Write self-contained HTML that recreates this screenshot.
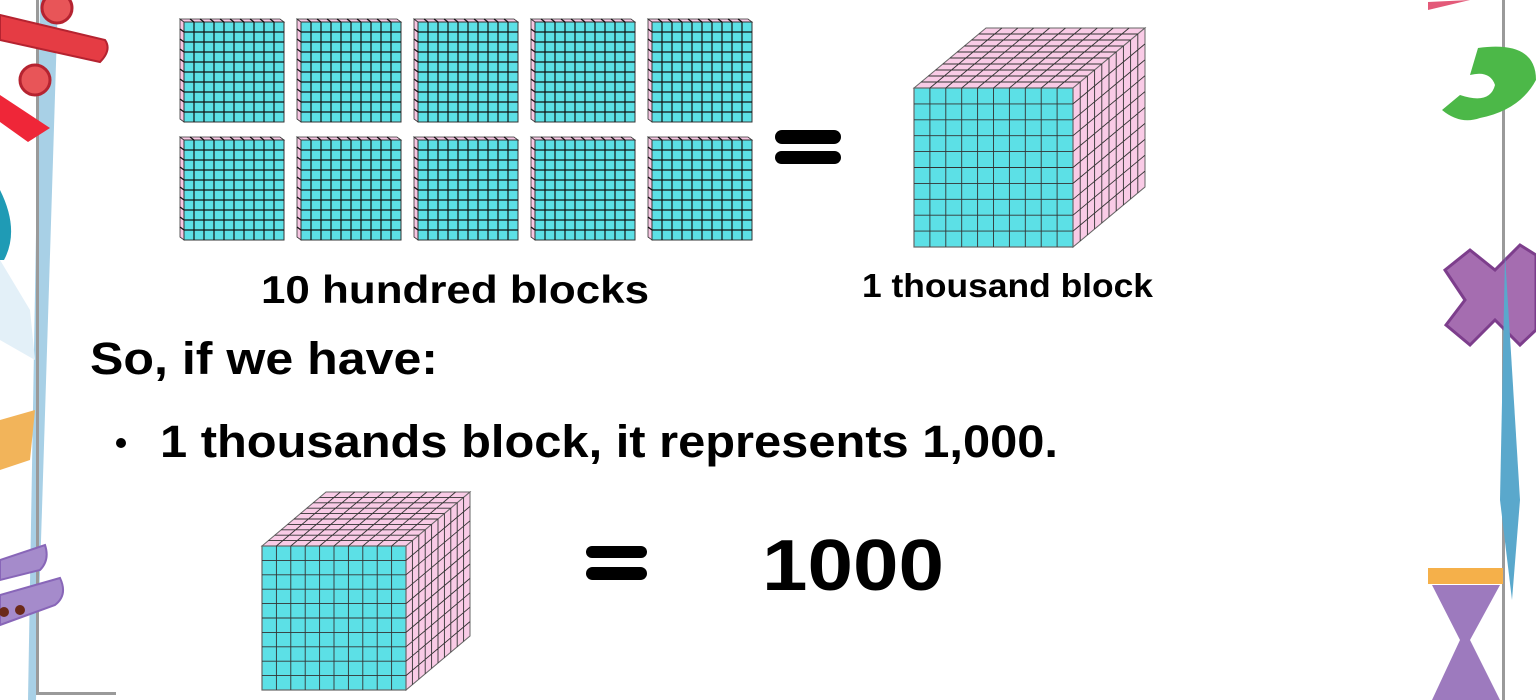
<!DOCTYPE html>
<html><head><meta charset="utf-8"><style>
html,body{margin:0;padding:0;background:#fff;}
svg{display:block;}
text{font-family:"Liberation Sans",sans-serif;font-weight:bold;fill:#000;}
</style></head><body>
<svg id="s" width="1536" height="700" viewBox="0 0 1536 700" xmlns="http://www.w3.org/2000/svg">
<g>
  <path d="M40,0 L58,0 L36,700 L28,700 Z" fill="#a8d0e6"/>
  <rect x="36" y="0" width="3" height="695" fill="#9a9a9a"/>
  <rect x="36" y="692" width="80" height="3" fill="#9a9a9a"/>
  <path d="M0,15 L105,40 Q112,50 100,62 L0,40 Z" fill="#e53c44" stroke="#b52330" stroke-width="2"/>
  <circle cx="57" cy="8" r="15" fill="#e85558" stroke="#b52330" stroke-width="3"/>
  <circle cx="35" cy="80" r="15" fill="#e85558" stroke="#b52330" stroke-width="3"/>
  <path d="M0,95 L50,128 L28,142 L0,122 Z" fill="#ef2638"/>
  <path d="M0,190 Q20,230 4,260 L0,260 Z" fill="#1f9bb5"/>
  <path d="M0,260 L30,310 L35,360 L0,340 Z" fill="#e3f0f8"/>
  <path d="M0,420 L35,410 L30,460 L0,470 Z" fill="#f2b45a"/>
  <path d="M0,560 L45,545 Q50,560 40,570 L0,580 Z" fill="#a58bcb" stroke="#8866b8" stroke-width="2"/>
  <path d="M0,595 L60,578 Q68,595 55,605 L0,625 Z" fill="#a58bcb" stroke="#8866b8" stroke-width="2"/>
  <circle cx="20" cy="610" r="5" fill="#6b2a1a"/><circle cx="4" cy="612" r="5" fill="#6b2a1a"/>
</g>
<g>
  <rect x="1502" y="0" width="3" height="700" fill="#9a9a9a"/>
  <path d="M1428,2 L1470,0 L1428,10 Z" fill="#e35a79"/>
  <path d="M1478,48 Q1536,40 1536,80 Q1520,110 1480,118 Q1460,125 1442,110 L1460,95 Q1490,105 1495,85 Q1490,70 1470,75 Z" fill="#4cb848"/>
  <path d="M1445,270 L1470,250 L1495,270 L1520,245 L1536,255 L1536,330 L1520,345 L1495,320 L1470,345 L1446,325 L1465,300 Z" fill="#a56db0" stroke="#7d3e8c" stroke-width="3"/>
  <path d="M1505,255 L1520,500 L1512,600 L1500,500 Z" fill="#5aa8cc"/>
  <rect x="1428" y="568" width="75" height="16" fill="#f5b04a"/>
  <path d="M1432,585 L1500,585 L1470,640 L1500,700 L1432,700 L1460,640 Z" fill="#8c63b3" opacity="0.85"/>
</g>
<g id="hundreds"></g>
<g>
  <rect x="775" y="130" width="66" height="14" rx="7"/>
  <rect x="775" y="151" width="66" height="13" rx="6.5"/>
</g>
<g id="cube1"></g>
<text x="455" y="303" text-anchor="middle" font-size="39" textLength="388" lengthAdjust="spacingAndGlyphs">10 hundred blocks</text>
<text x="862" y="297" font-size="33" textLength="291" lengthAdjust="spacingAndGlyphs">1 thousand block</text>
<text x="90" y="374" font-size="45" textLength="348" lengthAdjust="spacingAndGlyphs">So, if we have:</text>
<circle cx="121" cy="443" r="5"/>
<text x="160" y="457" font-size="45" textLength="898" lengthAdjust="spacingAndGlyphs">1 thousands block, it represents 1,000.</text>
<g id="cube2"></g>
<g>
  <rect x="586" y="546" width="61" height="12" rx="6"/>
  <rect x="586" y="567" width="61" height="13" rx="6.5"/>
</g>
<text x="762" y="590" font-size="72" textLength="182" lengthAdjust="spacingAndGlyphs">1000</text>
</svg>
<script>
const NS="http://www.w3.org/2000/svg";
function el(p,tag,a){const e=document.createElementNS(NS,tag);for(const k in a)e.setAttribute(k,a[k]);p.appendChild(e);return e;}
// hundred blocks
const H=document.getElementById('hundreds');
for(let r=0;r<2;r++)for(let c=0;c<5;c++){
  const x=184+c*117,y=22+r*118,s=100,dx=-4,dy=-3;
  const g=el(H,'g',{});
  
  
  el(g,'polygon',{points:`${x},${y} ${x+dx},${y+dy} ${x+dx},${y+dy+s} ${x},${y+s}`,fill:'#f7c6e2',stroke:'#333','stroke-width':0.8});
  el(g,'polygon',{points:`${x},${y} ${x+dx},${y+dy} ${x+dx+s},${y+dy} ${x+s},${y}`,fill:'#f7c6e2',stroke:'#333','stroke-width':0.8});
  el(g,'rect',{x:x,y:y,width:s,height:s,fill:'#5ce0e6',stroke:'#333','stroke-width':1});
  let d='';
  for(let i=1;i<10;i++){const t=i*s/10;d+=`M${x+t},${y}V${y+s}M${x},${y+t}H${x+s}M${x+dx},${y+dy+t}L${x},${y+t}M${x+dx+t},${y+dy}L${x+t},${y}`;}
  el(g,'path',{d:d,stroke:'#111','stroke-width':1.2,fill:'none'});
}
function cube(id,x,y,s,dx,dy){
  const g=document.getElementById(id);
  el(g,'polygon',{points:`${x},${y} ${x+dx},${y+dy} ${x+s+dx},${y+dy} ${x+s},${y}`,fill:'#f9cbe6',stroke:'#666'});
  el(g,'polygon',{points:`${x+s},${y} ${x+s+dx},${y+dy} ${x+s+dx},${y+s+dy} ${x+s},${y+s}`,fill:'#f9cbe6',stroke:'#666'});
  el(g,'rect',{x:x,y:y,width:s,height:s,fill:'#5ce0e6',stroke:'#666','stroke-width':1.2});
  let d='';
  for(let i=1;i<10;i++){const t=i*s/10,u=i/10;
    d+=`M${x+t},${y}V${y+s}M${x},${y+t}H${x+s}`;
    d+=`M${x+t},${y}L${x+t+dx},${y+dy}M${x+dx*u},${y+dy*u}L${x+s+dx*u},${y+dy*u}`;
    d+=`M${x+s},${y+t}L${x+s+dx},${y+t+dy}M${x+s+dx*u},${y+dy*u}L${x+s+dx*u},${y+s+dy*u}`;}
  el(g,'path',{d:d,stroke:'#333','stroke-width':0.9,fill:'none'});
}
cube('cube1',914,88,159,72,-60);
cube('cube2',262,546,144,64,-54);
</script>
</body></html>
